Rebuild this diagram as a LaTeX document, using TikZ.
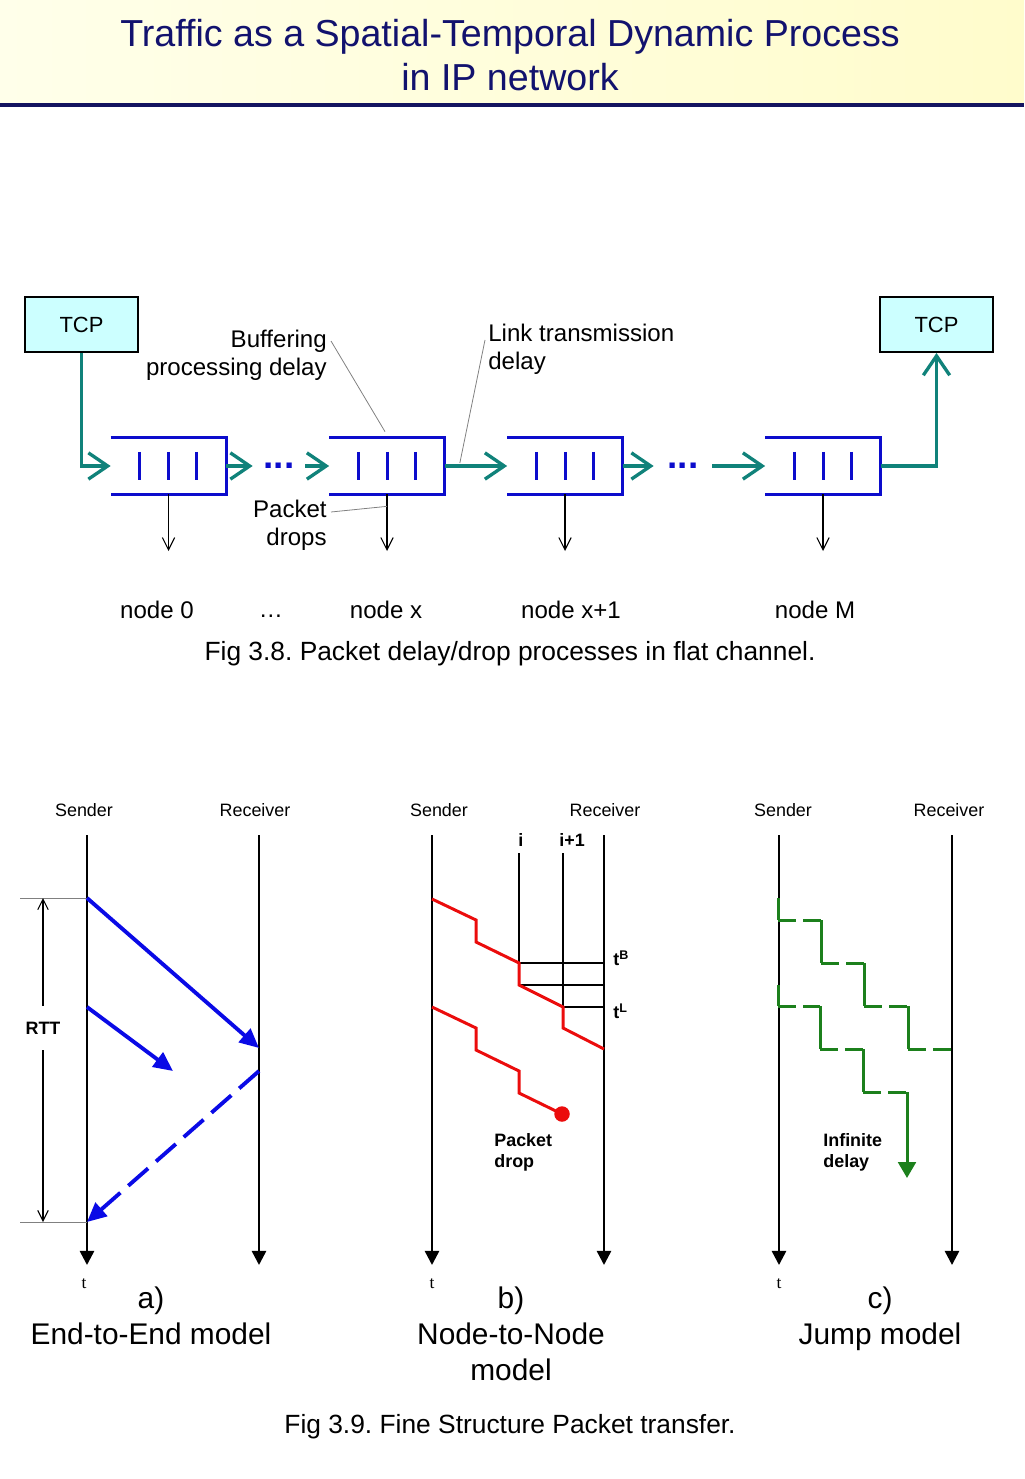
\documentclass[tikz,border=0pt]{standalone}
\usepackage{fontspec}
\setmainfont{Liberation Sans}
\newfontfamily\timefont{Liberation Serif}
\usetikzlibrary{arrows.meta,positioning,calc}
\frenchspacing

\definecolor{titleblue}{RGB}{18,18,110}
\definecolor{navyrule}{RGB}{20,20,96}
\definecolor{bandleft}{RGB}{255,255,234}
\definecolor{bandright}{RGB}{255,252,204}
\definecolor{tcpcyan}{RGB}{204,255,255}
\definecolor{linkteal}{RGB}{16,130,122}
\definecolor{queueblue}{RGB}{12,12,204}
\definecolor{pktblue}{RGB}{10,10,230}
\definecolor{pktred}{RGB}{235,12,12}
\definecolor{pktgreen}{RGB}{28,128,28}

\tikzset{
  tcpbox/.style={draw, line width=1.1pt, fill=tcpcyan, minimum width=2.26cm, minimum height=1.1cm, inner sep=0pt, font=\fontsize{12.5}{15}\selectfont},
  queue/.style={minimum width=2.3cm, minimum height=1.12cm, inner sep=0pt},
  qline/.style={draw=queueblue, line width=1.7pt},
  link/.style={draw=linkteal, line width=1.9pt, -{Straight Barb[length=11pt,width=15pt]}},
  dropline/.style={draw, line width=0.6pt, -{Straight Barb[length=7pt,width=7pt]}},
  leader/.style={draw=gray, line width=0.45pt},
  lbl/.style={inner sep=0pt, font=\fontsize{13.7}{16}\selectfont},
  figcap/.style={inner sep=0pt, font=\fontsize{15}{18}\selectfont},
  who/.style={inner sep=0pt, font=\fontsize{10.2}{12}\selectfont},
  tag/.style={inner sep=0pt, align=left, font=\fontsize{10.2}{12}\selectfont\bfseries},
  model/.style={inner sep=0pt, align=center, font=\fontsize{17}{20.5}\selectfont},
  timeline/.style={draw, line width=1.4pt, -{Triangle[length=8pt,width=8pt]}},
  timelabel/.style={inner sep=0pt, font=\timefont\fontsize{10}{11}\selectfont},
  rttarrow/.style={draw, line width=0.6pt, -{Straight Barb[length=6pt,width=6pt]}},
  rttext/.style={draw=gray, line width=0.5pt},
  e2e/.style={draw=pktblue, line width=2.2pt, -{Triangle[length=11pt,width=10pt]}},
  hop/.style={draw=pktred, line width=1.7pt},
  hopmark/.style={draw, line width=0.6pt},
  jump/.style={draw=pktgreen, line width=1.7pt},
  jumpgap/.style={jump, dash pattern=on 10pt off 4.5pt},
}

\begin{document}
\begin{tikzpicture}[x=0.02cm,y=-0.02cm]
\useasboundingbox (0,0) rectangle (1024,1479);

% title band
\shade[left color=bandleft, right color=bandright] (0,0) rectangle (1024,103);
\draw[navyrule, line width=2.2pt] (0,105) -- (1024,105);
\node[inner sep=0pt, align=center, text=titleblue, font=\fontsize{21.4}{25}\selectfont] (title) at (510,55) {Traffic as a Spatial-Temporal Dynamic Process\\in IP network};

% Fig 3.8 - flat channel
\node[tcpbox] (tcpL) at (81.5,324.5) {TCP};
\node[tcpbox] (tcpR) at (936.5,324.5) {TCP};

\node[queue] (q0) at (168.5,466) {};
\node[queue] (qx) at (387,466) {};
\node[queue] (qy) at (565,466) {};
\node[queue] (qm) at (823,466) {};

\foreach \q in {q0,qx,qy,qm} {
  \draw[qline] (\q.north west) -- (\q.north east) -- (\q.south east) -- (\q.south west);
  \draw[qline] ($(\q.center)+(-29,-14)$) -- ($(\q.center)+(-29,14)$);
  \draw[qline] ($(\q.center)+(0,-14)$) -- ($(\q.center)+(0,14)$);
  \draw[qline] ($(\q.center)+(28,-14)$) -- ($(\q.center)+(28,14)$);
}

\node[inner sep=0pt, minimum width=1.04cm, text=queueblue, font=\fontsize{21}{21}\selectfont\bfseries] (dots1) at (279,466) {...};
\node[inner sep=0pt, minimum width=1.16cm, text=queueblue, font=\fontsize{21}{21}\selectfont\bfseries] (dots2) at (683,466) {...};

\draw[link] (tcpL.south) |- (q0.west);
\draw[link] (q0.east) -- (dots1.west);
\draw[link] (dots1.east) -- (qx.west);
\draw[link] (qx.east) -- (qy.west);
\draw[link] (qy.east) -- (dots2.west);
\draw[link] (dots2.east) -- (qm.west);
\draw[link] (qm.east) -| (tcpR.south);

% drops
\coordinate (q0-out) at (168.5,551);
\coordinate (qx-out) at (387,551);
\coordinate (qy-out) at (565,551);
\coordinate (qm-out) at (823,551);
\draw[dropline] (q0.south) -- (q0-out);
\draw[dropline] (qx.south) -- (qx-out);
\draw[dropline] (qy.south) -- (qy-out);
\draw[dropline] (qm.south) -- (qm-out);

% labels with leaders
\node[lbl, align=right, anchor=east] (buf) at (327,355) {Buffering\\processing delay};
\node[lbl, align=left, anchor=west] (lnk) at (488,349) {Link transmission\\delay};
\node[lbl, align=right, anchor=east] (pd) at (327,525) {Packet\\drops};
\draw[leader] ($(buf.east)+(4,-14)$) -- ($(qx.north)+(-2,-6)$);
\draw[leader] ($(lnk.west)+(-3,-9)$) -- ($(qx.east)+(15,-3)$);
\draw[leader] ($(pd.east)+(4,-13)$) -- ($(qx.south)+(0,12)$);

\node[lbl] (n0) at (157,610) {node 0};
\node[lbl] (ndots) at (271,616) {…};
\node[lbl] (nx) at (386,610) {node x};
\node[lbl] (ny) at (571,610) {node x+1};
\node[lbl] (nm) at (815,610) {node M};

\node[figcap] (fig38) at (510,654) {Fig 3.8. Packet delay/drop processes in flat channel.};

% Fig 3.9 - time lines
\node[who] (a-snd) at (84,810) {Sender};
\node[who] (a-rcv) at (255,810) {Receiver};
\node[who] (b-snd) at (439,810) {Sender};
\node[who] (b-rcv) at (605,810) {Receiver};
\node[who] (c-snd) at (783,810) {Sender};
\node[who] (c-rcv) at (949,810) {Receiver};

\coordinate (a-s0) at (87,835);  \coordinate (a-s1) at (87,1265);
\coordinate (a-r0) at (259,835); \coordinate (a-r1) at (259,1265);
\coordinate (b-s0) at (432,835); \coordinate (b-s1) at (432,1265);
\coordinate (b-r0) at (604,835); \coordinate (b-r1) at (604,1265);
\coordinate (c-s0) at (779,835); \coordinate (c-s1) at (779,1265);
\coordinate (c-r0) at (952,835); \coordinate (c-r1) at (952,1265);
\draw[timeline] (a-s0) -- (a-s1);
\draw[timeline] (a-r0) -- (a-r1);
\draw[timeline] (b-s0) -- (b-s1);
\draw[timeline] (b-r0) -- (b-r1);
\draw[timeline] (c-s0) -- (c-s1);
\draw[timeline] (c-r0) -- (c-r1);

\node[timelabel] (a-t) at (84,1284) {t};
\node[timelabel] (b-t) at (432,1284) {t};
\node[timelabel] (c-t) at (779,1284) {t};

% a) end-to-end
\coordinate (a-go) at (87,898);
\coordinate (a-back) at (87,1222);
\coordinate (rtt-top) at (20,898);
\coordinate (rtt-bot) at (20,1222);
\draw[rttext] (rtt-top) -- (a-go);
\draw[rttext] (rtt-bot) -- (a-back);
\node[tag, minimum height=0.88cm] (rtt) at (43,1028) {RTT};
\coordinate (rtt-hi) at (43,898);
\coordinate (rtt-lo) at (43,1222);
\draw[rttarrow] (rtt.north) -- (rtt-hi);
\draw[rttarrow] (rtt.south) -- (rtt-lo);

\coordinate (a-go2) at (87,1007);
\coordinate (a-hit) at (259,1048);
\coordinate (a-lost) at (173,1071);
\coordinate (a-ack) at (259,1071);
\draw[e2e] (a-go) -- (a-hit);
\draw[e2e] (a-go2) -- (a-lost);
\draw[e2e, dash pattern=on 15pt off 6pt] (a-ack) -- (a-back);

% b) node-to-node
\node[tag, anchor=south west] (hop-i) at (518,847) {i};
\node[tag, anchor=south west] (hop-j) at (559,847) {i+1};
\draw[hopmark] (519,853) -- (519,985);
\draw[hopmark] (563,853) -- (563,1007);
\draw[hopmark] (519,963) -- (604,963);
\draw[hopmark] (519,985) -- (604,985);
\draw[hopmark] (563,1007) -- (604,1007);
\node[tag, anchor=west] (tB) at (613,958) {t\textsuperscript{B}};
\node[tag, anchor=west] (tL) at (613,1011) {t\textsuperscript{L}};

\draw[hop] (432,899) -- (476,920) -- (476,942) -- (519,963) -- (519,985) -- (563,1007) -- (563,1028) -- (604,1049);
\node[circle, fill=pktred, inner sep=0pt, minimum size=0.31cm] (b-drop) at (562,1114) {};
\draw[hop] (432,1007) -- (476,1028) -- (476,1050) -- (519,1071) -- (519,1093) -- (b-drop.center);
\node[tag, anchor=west] (b-droptxt) at (494,1152) {Packet\\drop};

% c) jump
\draw[jump] (778,898) -- (778,920);
\draw[jumpgap] (778,920) -- (821,920);
\draw[jump] (821,920) -- (821,963);
\draw[jumpgap] (821,963) -- (864,963);
\draw[jump] (864,963) -- (864,1006);
\draw[jumpgap] (864,1006) -- (908,1006);
\draw[jump] (908,1006) -- (908,1049);
\draw[jumpgap] (908,1049) -- (951,1049);
\draw[jump] (778,985) -- (778,1006);
\draw[jumpgap] (778,1006) -- (820,1006);
\draw[jump] (820,1006) -- (820,1049);
\draw[jumpgap] (820,1049) -- (863,1049);
\draw[jump] (863,1049) -- (863,1092);
\draw[jumpgap] (863,1092) -- (907,1092);
\coordinate (c-lost) at (907,1178);
\draw[jump, -{Triangle[length=9pt,width=10pt]}] (907,1092) -- (c-lost);
\node[tag, anchor=west] (c-lbl) at (823,1152) {Infinite\\delay};

% captions
\node[model] (a-cap) at (151,1316) {a)\\End-to-End model};
\node[model] (b-cap) at (511,1334) {b)\\Node-to-Node\\model};
\node[model] (c-cap) at (880,1319) {c)\\Jump model};

\node[figcap] (fig39) at (510,1427) {Fig 3.9. Fine Structure Packet transfer.};
\end{tikzpicture}
\end{document}
